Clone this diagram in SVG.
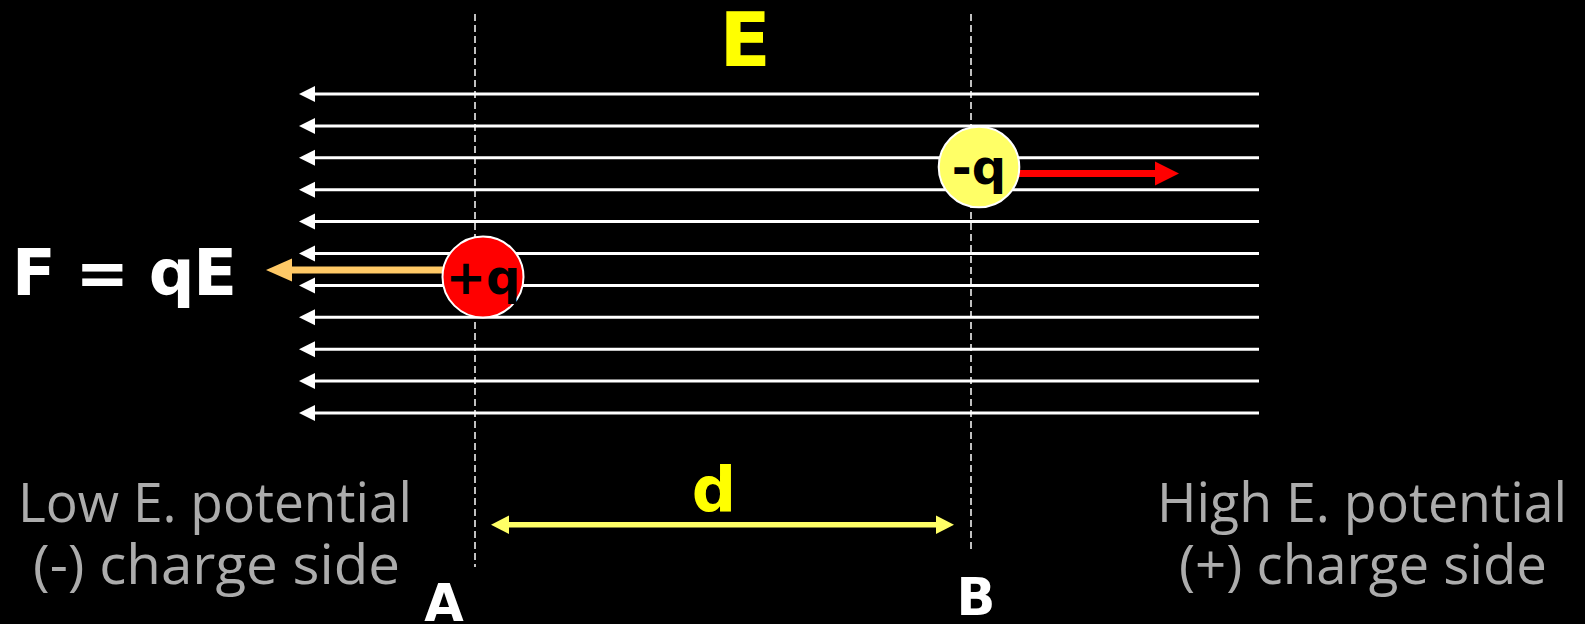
<svg xmlns="http://www.w3.org/2000/svg" width="1585" height="624" viewBox="0 0 1585 624">
<defs>
<marker id="fh" markerUnits="userSpaceOnUse" markerWidth="16" markerHeight="16" refX="1" refY="8" orient="auto" viewBox="0 0 16 16">
<path d="M0,8 L16,0 L16,16 z" fill="#ffffff"/>
</marker>
</defs>
<style>
.field{stroke:#ffffff;stroke-width:3;fill:none}
.dash{stroke:#ffffff;stroke-width:1.5;stroke-dasharray:7 4;fill:none}
.bold{font-family:"DejaVu Sans",Verdana,sans-serif;font-weight:bold}
.gray{font-family:"Open Sans","DejaVu Sans",sans-serif;fill:#acacac;font-size:54px}
.charge{stroke:#ffffff;stroke-width:2}
</style>
<rect width="1585" height="624" fill="#000000"/>
<g id="connectors">
<g id="field-lines">
<polyline class="field" points="1259,94 307,94"/>
<polyline class="field" points="1259,125.9 307,125.9"/>
<polyline class="field" points="1259,157.8 307,157.8"/>
<polyline class="field" points="1259,189.7 307,189.7"/>
<polyline class="field" points="1259,221.6 307,221.6"/>
<polyline class="field" points="1259,253.5 307,253.5"/>
<polyline class="field" points="1259,285.4 307,285.4"/>
<polyline class="field" points="1259,317.3 307,317.3"/>
<polyline class="field" points="1259,349.2 307,349.2"/>
<polyline class="field" points="1259,381.1 307,381.1"/>
<polyline class="field" points="1259,413 307,413"/>
<g fill="#ffffff">
<polygon points="299,94 315,86 315,102"/>
<polygon points="299,125.9 315,117.9 315,133.9"/>
<polygon points="299,157.8 315,149.8 315,165.8"/>
<polygon points="299,189.7 315,181.7 315,197.7"/>
<polygon points="299,221.6 315,213.6 315,229.6"/>
<polygon points="299,253.5 315,245.5 315,261.5"/>
<polygon points="299,285.4 315,277.4 315,293.4"/>
<polygon points="299,317.3 315,309.3 315,325.3"/>
<polygon points="299,349.2 315,341.2 315,357.2"/>
<polygon points="299,381.1 315,373.1 315,389.1"/>
<polygon points="299,413 315,405 315,421"/>
</g>
</g>
<line id="line-A" class="dash" x1="475" y1="14" x2="475" y2="567"/>
<line id="line-B" class="dash" x1="971" y1="14" x2="971" y2="553"/>
<g id="force-plus">
<rect x="289" y="266.5" width="156" height="7" fill="#ffc966"/>
<polygon points="266,270 292,258.5 292,281.5" fill="#ffc966"/>
</g>
<g id="force-minus">
<rect x="1018" y="170" width="139" height="7" fill="#ff0000"/>
<polygon points="1179,173.5 1155,161.5 1155,185.5" fill="#ff0000"/>
</g>
<g id="distance-d">
<rect x="505" y="522" width="434" height="5.5" fill="#ffff66"/>
<polygon points="491,524.7 509,515.5 509,534" fill="#ffff66"/>
<polygon points="954,524.7 936,515.5 936,534" fill="#ffff66"/>
</g>
</g>
<g id="charge-plus">
<circle class="charge" cx="483" cy="277" r="40.5" fill="#ff0000"/>
<text class="bold" x="483" y="294" font-size="48" text-anchor="middle" fill="#000000">+q</text>
</g>
<g id="charge-minus">
<circle class="charge" cx="979" cy="167" r="40.3" fill="#ffff66"/>
<text class="bold" x="979" y="184" font-size="48" text-anchor="middle" fill="#000000">-q</text>
</g>
<g id="label-E"><text class="bold" x="745" y="66" font-size="75" text-anchor="middle" fill="#ffff00">E</text></g>
<g id="label-F"><text class="bold" x="12" y="295" font-size="64" fill="#ffffff" textLength="225" lengthAdjust="spacing">F = qE</text></g>
<g id="label-d"><text class="bold" x="714" y="511" font-size="62" text-anchor="middle" fill="#ffff00">d</text></g>
<g id="label-A"><text class="bold" x="444" y="621" font-size="51" text-anchor="middle" fill="#ffffff">A</text></g>
<g id="label-B"><text class="bold" x="976" y="615" font-size="51" text-anchor="middle" fill="#ffffff">B</text></g>
<g id="label-low">
<text class="gray" x="18" y="522" textLength="394" lengthAdjust="spacingAndGlyphs">Low E. potential</text>
<text class="gray" x="33" y="584" textLength="367" lengthAdjust="spacingAndGlyphs">(-) charge side</text>
</g>
<g id="label-high">
<text class="gray" x="1157" y="522" textLength="410" lengthAdjust="spacingAndGlyphs">High E. potential</text>
<text class="gray" x="1179" y="584" textLength="368" lengthAdjust="spacingAndGlyphs">(+) charge side</text>
</g>
</svg>
